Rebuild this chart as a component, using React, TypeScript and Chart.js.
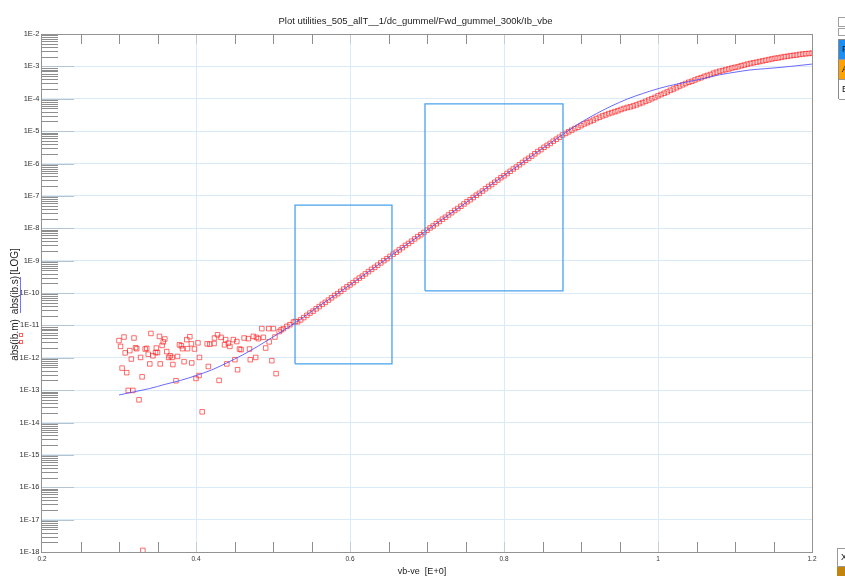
import React, { useEffect, useRef } from "react";
import { Chart, registerables } from "chart.js";

Chart.register(...registerables);

const NARROW = "'Liberation Sans Narrow', 'Arial Narrow', 'Liberation Sans', Arial, sans-serif";

const plotTitle = "Plot utilities_505_allT__1/dc_gummel/Fwd_gummel_300k/Ib_vbe";
const xAxisTitle = "vb-ve  [E+0]";
const yAxisTitles = ["abs(ib.m)", "abs(ib.s)", "[LOG]"];

const xTickValues = [0.2, 0.4, 0.6, 0.8, 1.0, 1.2];
const xTickLabels = ["0.2", "0.4", "0.6", "0.8", "1", "1.2"];
const yTickExponents = [-18, -17, -16, -15, -14, -13, -12, -11, -10, -9, -8, -7, -6, -5, -4, -3, -2];
const yTickLabels = [
  "1E-18", "1E-17", "1E-16", "1E-15", "1E-14", "1E-13", "1E-12", "1E-11", "1E-10",
  "1E-9", "1E-8", "1E-7", "1E-6", "1E-5", "1E-4", "1E-3", "1E-2",
];

// Measured base current, sub-threshold (noisy) part: vb-ve [V] and log10|ib| [A]
const vbLow = [
  0.300, 0.302, 0.304, 0.3065, 0.308, 0.310, 0.312, 0.314, 0.316, 0.318,
  0.3195, 0.3215, 0.323, 0.326, 0.328, 0.330, 0.331, 0.334, 0.336, 0.338,
  0.340, 0.3415, 0.344, 0.3475, 0.3485, 0.350, 0.3525, 0.3535, 0.356, 0.3575,
  0.3595, 0.362, 0.3645, 0.3665, 0.369, 0.370, 0.374, 0.376, 0.3785, 0.381,
  0.3825, 0.3845, 0.388, 0.389, 0.392, 0.394, 0.3945, 0.398, 0.400, 0.4025,
  0.404, 0.4045, 0.408, 0.4145, 0.416, 0.418, 0.4235, 0.424, 0.428, 0.430,
  0.4325, 0.437, 0.4385, 0.440, 0.442, 0.444, 0.4485, 0.4505, 0.453, 0.454,
  0.4565, 0.4585, 0.4625, 0.468, 0.4695, 0.4705, 0.4745, 0.4775, 0.4785, 0.481,
  0.4855, 0.4875, 0.4905, 0.4945, 0.495, 0.4985, 0.5005, 0.5025, 0.504, 0.508,
  0.5105, 0.5135, 0.518, 0.522, 0.5265, 0.529,
];
const ibLowExp = [
  -11.47, -11.65, -12.32, -11.36, -11.85, -12.46, -13.01, -11.78, -12.04, -13.01,
  -11.39, -11.69, -11.72, -13.30, -11.99, -12.59, -17.95, -11.73, -11.71, -11.89,
  -12.19, -11.25, -11.94, -11.84, -11.70, -11.84, -11.34, -12.19, -11.62, -11.51,
  -11.42, -11.81, -11.99, -11.94, -11.99, -12.21, -12.71, -11.96, -11.60, -11.63,
  -11.72, -12.12, -11.44, -11.72, -11.35, -11.57, -12.16, -11.73, -12.64, -11.54,
  -12.55, -11.99, -13.67, -11.57, -12.27, -11.58, -11.56, -11.39, -11.29, -12.70,
  -11.37, -11.60, -11.44, -12.19, -11.55, -11.65, -11.44, -12.06, -11.50, -12.37,
  -11.73, -11.75, -11.39, -11.41, -11.73, -12.06, -11.34, -11.99, -11.37, -11.41,
  -11.10, -11.37, -11.70, -11.10, -11.51, -12.09, -11.10, -11.36, -12.49, -11.19,
  -11.14, -11.10, -11.03, -10.98, -10.90, -10.88,
];

// Measured base current, forward part: vb-ve [V] and log10|ib| [A]
const vbHigh = [
  0.532, 0.536, 0.540, 0.544, 0.548, 0.552, 0.556, 0.560, 0.564, 0.568,
  0.572, 0.576, 0.580, 0.584, 0.588, 0.592, 0.596, 0.600, 0.604, 0.608,
  0.612, 0.616, 0.620, 0.624, 0.628, 0.632, 0.636, 0.640, 0.644, 0.648,
  0.652, 0.656, 0.660, 0.664, 0.668, 0.672, 0.676, 0.680, 0.684, 0.688,
  0.692, 0.696, 0.700, 0.704, 0.708, 0.712, 0.716, 0.720, 0.724, 0.728,
  0.732, 0.736, 0.740, 0.744, 0.748, 0.752, 0.756, 0.760, 0.764, 0.768,
  0.772, 0.776, 0.780, 0.784, 0.788, 0.792, 0.796, 0.800, 0.804, 0.808,
  0.812, 0.816, 0.820, 0.824, 0.828, 0.832, 0.836, 0.840, 0.844, 0.848,
  0.852, 0.856, 0.860, 0.864, 0.868, 0.872, 0.876, 0.880, 0.884, 0.888,
  0.892, 0.896, 0.900, 0.904, 0.908, 0.912, 0.916, 0.920, 0.924, 0.928,
  0.932, 0.936, 0.940, 0.944, 0.948, 0.952, 0.956, 0.960, 0.964, 0.968,
  0.972, 0.976, 0.980, 0.984, 0.988, 0.992, 0.996, 1.000, 1.004, 1.008,
  1.012, 1.016, 1.020, 1.024, 1.028, 1.032, 1.036, 1.040, 1.044, 1.048,
  1.052, 1.056, 1.060, 1.064, 1.068, 1.072, 1.076, 1.080, 1.084, 1.088,
  1.092, 1.096, 1.100, 1.104, 1.108, 1.112, 1.116, 1.120, 1.124, 1.128,
  1.132, 1.136, 1.140, 1.144, 1.148, 1.152, 1.156, 1.160, 1.164, 1.168,
  1.172, 1.176, 1.180, 1.184, 1.188, 1.192, 1.196, 1.200,
];
const ibHighExp = [
  -10.89, -10.83, -10.76, -10.69, -10.62, -10.56, -10.49, -10.42, -10.35, -10.29,
  -10.22, -10.15, -10.08, -10.02, -9.95, -9.88, -9.81, -9.75, -9.68, -9.61,
  -9.54, -9.48, -9.41, -9.34, -9.27, -9.21, -9.14, -9.07, -9.00, -8.94,
  -8.87, -8.80, -8.74, -8.67, -8.60, -8.53, -8.47, -8.40, -8.33, -8.26,
  -8.20, -8.13, -8.06, -7.99, -7.93, -7.86, -7.79, -7.72, -7.66, -7.59,
  -7.52, -7.45, -7.39, -7.32, -7.25, -7.18, -7.12, -7.05, -6.98, -6.92,
  -6.85, -6.78, -6.71, -6.65, -6.58, -6.51, -6.44, -6.38, -6.31, -6.24,
  -6.17, -6.11, -6.04, -5.97, -5.90, -5.84, -5.77, -5.70, -5.63, -5.57,
  -5.50, -5.44, -5.38, -5.31, -5.25, -5.19, -5.12, -5.07, -5.02, -4.97,
  -4.92, -4.88, -4.83, -4.78, -4.74, -4.70, -4.66, -4.61, -4.57, -4.53,
  -4.50, -4.46, -4.43, -4.40, -4.37, -4.33, -4.30, -4.27, -4.25, -4.22,
  -4.19, -4.15, -4.12, -4.08, -4.04, -4.00, -3.96, -3.91, -3.87, -3.83,
  -3.79, -3.74, -3.70, -3.66, -3.61, -3.57, -3.53, -3.49, -3.46, -3.42,
  -3.38, -3.35, -3.31, -3.28, -3.25, -3.21, -3.18, -3.15, -3.13, -3.10,
  -3.08, -3.05, -3.03, -3.01, -2.98, -2.96, -2.93, -2.91, -2.89, -2.87,
  -2.85, -2.83, -2.81, -2.79, -2.77, -2.75, -2.74, -2.72, -2.70, -2.69,
  -2.67, -2.66, -2.65, -2.63, -2.62, -2.61, -2.60, -2.59,
];

// Simulated base current: vb-ve [V] and log10|ib| [A]
const vbSim = [
  0.30, 0.32, 0.34, 0.36, 0.38, 0.40, 0.42, 0.44, 0.46, 0.48,
  0.50, 0.52, 0.54, 0.56, 0.58, 0.60, 0.62, 0.64, 0.66, 0.68,
  0.70, 0.72, 0.74, 0.76, 0.78, 0.80, 0.82, 0.84, 0.86, 0.88,
  0.90, 0.92, 0.94, 0.96, 0.98, 1.00, 1.02, 1.04, 1.06, 1.08,
  1.10, 1.12, 1.14, 1.16, 1.18, 1.20,
];
const ibSimExp = [
  -13.15, -13.05, -12.95, -12.82, -12.70, -12.55, -12.38, -12.16, -11.92, -11.65,
  -11.36, -11.06, -10.74, -10.40, -10.08, -9.75, -9.41, -9.07, -8.73, -8.40,
  -8.06, -7.72, -7.39, -7.05, -6.71, -6.37, -6.04, -5.70, -5.37, -5.04,
  -4.73, -4.46, -4.22, -4.01, -3.84, -3.69, -3.57, -3.47, -3.37, -3.26,
  -3.18, -3.11, -3.07, -3.03, -2.98, -2.93,
];

// Fit-window selections: [vb from, vb to] and [ib low, ib high]
const windowVb = [
  [0.5286, 0.6545],
  [0.6974, 0.8766],
];
const windowIb = [
  [6.5e-13, 5.2e-8],
  [1.17e-10, 6.9e-5],
];

const pow10 = (e: number) => Number(`1e${e}`) || Math.pow(10, e);

const decorations = {
  id: "decorations",
  beforeDatasetsDraw(chart: any) {
    const { ctx, chartArea } = chart;
    const { left, top, bottom } = chartArea;
    const xs = chart.scales.x;
    const ys = chart.scales.y;
    ctx.save();
    ctx.lineWidth = 1;

    // inward minor marks on the log axis
    ctx.strokeStyle = "#8e8e8e";
    ctx.beginPath();
    for (let e = yTickExponents[0]; e < yTickExponents[yTickExponents.length - 1]; e++) {
      for (let k = 2; k <= 9; k++) {
        const py = Math.round(ys.getPixelForValue(k * pow10(e))) + 0.5;
        ctx.moveTo(left, py);
        ctx.lineTo(left + 16, py);
      }
    }
    ctx.stroke();

    // longer decade marks
    ctx.strokeStyle = "#b6c4d0";
    ctx.beginPath();
    for (const e of yTickExponents) {
      const py = Math.round(ys.getPixelForValue(pow10(e))) + 0.5;
      ctx.moveTo(left, py);
      ctx.lineTo(left + 32, py);
    }
    ctx.stroke();

    // inward minor marks on the voltage axis, top and bottom
    for (let i = 1; i < 20; i++) {
      const px = Math.round(xs.getPixelForValue(0.2 + i * 0.05)) + 0.5;
      ctx.strokeStyle = i % 4 === 0 ? "#c4ccd4" : "#8e8e8e";
      ctx.beginPath();
      ctx.moveTo(px, bottom);
      ctx.lineTo(px, bottom - 10);
      ctx.moveTo(px, top);
      ctx.lineTo(px, top + 10);
      ctx.stroke();
    }
    ctx.restore();
  },
  afterDraw(chart: any) {
    const { ctx, chartArea } = chart;
    const { left, right, top, bottom } = chartArea;
    ctx.save();

    // plot frame
    ctx.strokeStyle = "#939393";
    ctx.lineWidth = 1;
    ctx.strokeRect(left - 0.5, top + 0.5, right - left + 1, bottom - top);

    // title
    ctx.fillStyle = "#222";
    ctx.font = `9.5px ${NARROW}`;
    ctx.textAlign = "center";
    ctx.textBaseline = "alphabetic";
    ctx.fillText(plotTitle, 415.5, 24);

    // x axis title
    ctx.font = `9px ${NARROW}`;
    ctx.fillText(xAxisTitle, 422, 574);

    // y axis title, stacked vertically
    ctx.font = `10px ${NARROW}`;
    const yCenters = [340, 295, 261.5];
    yAxisTitles.forEach((t, i) => {
      ctx.save();
      ctx.translate(17.5, yCenters[i]);
      ctx.rotate(-Math.PI / 2);
      ctx.fillText(t, 0, 0);
      ctx.restore();
    });

    // series samples next to the y title
    ctx.strokeStyle = "rgba(90,90,255,0.85)";
    ctx.beginPath();
    ctx.moveTo(20.5, 277);
    ctx.lineTo(20.5, 313);
    ctx.stroke();
    ctx.strokeStyle = "rgba(255,30,30,0.7)";
    ctx.strokeRect(19.5, 333.5, 3, 3);
    ctx.strokeRect(19.5, 340.5, 3, 3);

    ctx.restore();
  },
};

export default function App() {
  const canvasRef = useRef<HTMLCanvasElement | null>(null);

  useEffect(() => {
    const canvas = canvasRef.current;
    if (!canvas) return;

    const measured = [
      ...vbLow.map((v, i) => ({ x: v, y: pow10(ibLowExp[i]) })),
      ...vbHigh.map((v, i) => ({ x: v, y: pow10(ibHighExp[i]) })),
    ];
    const simulated = vbSim.map((v, i) => ({ x: v, y: pow10(ibSimExp[i]) }));
    const windows = windowVb.map(([x1, x2], i) => {
      const [y1, y2] = windowIb[i];
      return {
        data: [
          { x: x1, y: y1 },
          { x: x2, y: y1 },
          { x: x2, y: y2 },
          { x: x1, y: y2 },
          { x: x1, y: y1 },
        ],
        showLine: true,
        borderColor: "#4aa2ec",
        borderWidth: 1.3,
        pointRadius: 0,
        tension: 0,
        fill: false,
        order: 0,
      };
    });

    const chart = new Chart(canvas, {
      type: "scatter",
      data: {
        datasets: [
          {
            label: "abs(ib.s)",
            data: simulated,
            showLine: true,
            borderColor: "rgba(80,80,255,0.85)",
            borderWidth: 1,
            pointRadius: 0,
            cubicInterpolationMode: "monotone",
            fill: false,
            order: 1,
          },
          {
            label: "abs(ib.m)",
            data: measured,
            showLine: false,
            pointStyle: "rect",
            pointRadius: 3.2,
            borderWidth: 1,
            borderColor: "rgba(255,20,20,0.62)",
            backgroundColor: "rgba(0,0,0,0)",
            order: 2,
          },
          ...windows,
        ] as any,
      },
      options: {
        responsive: false,
        animation: false,
        devicePixelRatio: 1,
        layout: { padding: { left: 0, top: 34, right: 33, bottom: 0 } },
        plugins: {
          legend: { display: false },
          tooltip: { enabled: false },
          title: { display: false },
        },
        scales: {
          x: {
            type: "linear",
            min: 0.2,
            max: 1.2,
            afterFit: (s: any) => {
              s.height = 24;
            },
            afterBuildTicks: (s: any) => {
              s.ticks = xTickValues.map((v) => ({ value: v }));
            },
            ticks: {
              autoSkip: false,
              maxRotation: 0,
              padding: 3,
              color: "#333",
              font: { family: NARROW, size: 6.5 },
              callback: (_v: any, i: number) => xTickLabels[i],
            },
            grid: {
              drawTicks: false,
              color: (c: any) =>
                c.index === 0 || c.index === xTickValues.length - 1 ? "rgba(0,0,0,0)" : "#d9eaf8",
            },
            border: { display: false },
          },
          y: {
            type: "logarithmic",
            min: 1e-18,
            max: 1e-2,
            afterFit: (s: any) => {
              s.width = 42;
            },
            afterBuildTicks: (s: any) => {
              s.ticks = yTickExponents.map((e) => ({ value: pow10(e), major: true }));
            },
            ticks: {
              autoSkip: false,
              padding: 2.5,
              color: "#333",
              font: { family: NARROW, size: 7.5 },
              callback: (_v: any, i: number) => yTickLabels[i],
            },
            grid: {
              drawTicks: false,
              color: "#dbeaf7",
            },
            border: { display: false },
          },
        },
      } as any,
      plugins: [decorations],
    });

    return () => chart.destroy();
  }, []);

  const cell = (bg: string, letter: string) => (
    <div
      style={{
        height: 19,
        background: bg,
        borderBottom: "1px solid #9a9a9a",
        font: "9px 'Liberation Sans', Arial, sans-serif",
        lineHeight: "19px",
        paddingLeft: 3,
        color: "#111",
      }}
    >
      {letter}
    </div>
  );

  return (
    <div
      style={{
        position: "absolute",
        left: 0,
        top: 0,
        width: 845,
        height: 576,
        overflow: "hidden",
        background: "#fff",
      }}
    >
      <canvas ref={canvasRef} width={845} height={576} style={{ display: "block" }} />
      <div style={{ position: "absolute", left: 838, top: 17, width: 14, height: 10, border: "1px solid #a0a0a0", boxSizing: "border-box" }} />
      <div style={{ position: "absolute", left: 838, top: 28, width: 8, height: 8, border: "1px solid #a0a0a0", boxSizing: "border-box" }} />
      <div
        style={{
          position: "absolute",
          left: 838,
          top: 39,
          width: 20,
          height: 60,
          borderLeft: "1px solid #8a8a8a",
          borderTop: "1px solid #8a8a8a",
          boxSizing: "border-box",
        }}
      >
        {cell("#1c8ff5", "P")}
        {cell("#ffa200", "A")}
        {cell("#ffffff", "E")}
      </div>
      <div
        style={{
          position: "absolute",
          left: 837,
          top: 548,
          width: 20,
          height: 19,
          border: "1px solid #9a9a9a",
          boxSizing: "border-box",
          font: "9px 'Liberation Sans', Arial, sans-serif",
          lineHeight: "17px",
          paddingLeft: 3,
          color: "#111",
        }}
      >
        X
      </div>
      <div style={{ position: "absolute", left: 837, top: 567, width: 20, height: 9, background: "#c4840c" }} />
    </div>
  );
}
